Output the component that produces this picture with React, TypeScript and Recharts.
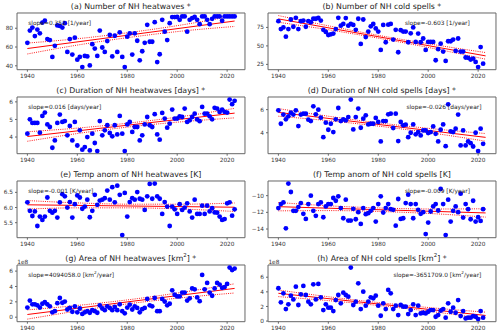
import React from "react";
import { ComposedChart, Scatter, Line, XAxis, YAxis, ReferenceLine } from "recharts";

const FIRST_YEAR = 1940;
const X_TICKS = [1940, 1960, 1980, 2000, 2020];
const X_DOMAIN: [number, number] = [1935.85, 2027.15];
const TREND_YEARS = [1940, 2023];
const BAND_YEARS = [1940, 1961, 1981, 2002, 2023];

// (a) number of heatwaves, 1940-2023
const heatCount = [
  64.5, 77.5, 80.7, 71.7, 78.6, 74.6, 86, 88, 68.5, 67.4,
  49.4, 61.3, 83, 82.5, 80.7, 85.4, 54.8, 68.5, 52, 70,
  46.5, 49.4, 38.6, 50.5, 50, 40.4, 63, 58.4, 50.5, 77.5,
  59.5, 54.8, 66.3, 72.8, 50, 72, 54.8, 75.7, 49.4, 38.6,
  71, 74.6, 52, 74.6, 66.7, 45.8, 55.5, 64.5, 83.6, 65.6,
  65.6, 86.5, 44, 52.3, 89, 76.4, 67.4, 85.4, 91.9, 91.9,
  92, 89, 92.6, 92.6, 76.4, 89, 90.8, 92, 89, 84.3,
  92.6, 92.6, 89, 84.3, 90, 92.6, 92.6, 92.6, 88, 92.6,
  92.6, 92.6, 92.6, 92.6,
];
const heatCountTrend = [58.4, 87.7];
const heatCountUpper = [64.2, 69.1, 75.5, 83.6, 93.5];
const heatCountLower = [52.6, 62.5, 70.3, 77.0, 81.9];

// (b) number of cold spells, 1940-2022
const coldCount = [
  83.4, 72.7, 75, 62.4, 72.7, 85.7, 75.9, 88, 72.7, 83.4,
  84.3, 75.9, 83.4, 82, 86.7, 86.7, 88, 84.3, 71.7, 68.9,
  64.7, 65.7, 66.6, 72.7, 88, 77.3, 79.7, 87.6, 77.3, 79.7,
  78.3, 71.7, 86.7, 52.6, 85.7, 61.9, 69.4, 76.4, 79.7, 73.6,
  69.4, 44.6, 78.3, 54.9, 78.7, 79.7, 58.6, 71.7, 41.4, 71.3,
  69.4, 69.4, 54.9, 67, 75, 55.4, 66.6, 54.9, 60, 44.6,
  55.4, 55.4, 55.4, 30.6, 45.6, 53, 42.3, 29.7, 56.3, 56.3,
  58.6, 43.2, 60, 42.3, 42.3, 34.3, 33.9, 31.5, 32.9, 28.3,
  21.3, 48.4, 25.9,
];
const coldCountTrend = [86.5, 36.5];
const coldCountUpper = [91, 76.5, 63.7, 51.8, 41];
const coldCountLower = [82, 71.3, 59.9, 46.6, 32];

// (c) duration of heatwaves [days]
const heatDur = [
  4.19, 5.01, 4.8, 4.8, 4.8, 4.25, 5.2, 5.39, 4.72, 4.57,
  3.39, 3.81, 4.8, 5.28, 4.86, 4.91, 4.1, 4.63, 3.81, 4.86,
  3.52, 4.38, 3.28, 3.43, 4.0, 3.24, 4.19, 3.66, 3.2, 4.91,
  4.1, 4.38, 4.67, 4.23, 4.04, 4.67, 4.15, 5.2, 4.19, 3.2,
  4.72, 4.86, 4.29, 4.57, 4.57, 3.81, 4.1, 4.72, 5.14, 4.67,
  4.57, 5.3, 4.15, 3.85, 5.37, 5.05, 4.53, 4.76, 5.56, 5.05,
  5.05, 5.18, 5.14, 5.62, 4.86, 4.95, 5.14, 5.33, 5.0, 4.9,
  5.71, 5.33, 5.33, 5.18, 5.01, 5.66, 5.62, 5.43, 5.56, 5.43,
  5.39, 6.13, 5.87, 6.06,
];
const heatDurTrend = [4.03, 5.36];
const heatDurUpper = [4.3, 4.52, 4.8, 5.17, 5.63];
const heatDurLower = [3.76, 4.22, 4.58, 4.87, 5.09];

// (d) duration of cold spells [days]
const coldDur = [
  5.94, 4.78, 5.57, 5.16, 5.42, 5.74, 5.57, 5.94, 4.58, 5.57,
  5.65, 5.65, 5.13, 5.01, 6.29, 5.59, 6.0, 5.3, 3.62, 4.87,
  4.26, 4.78, 4.06, 5.16, 6.14, 5.01, 5.16, 5.07, 5.36, 6.87,
  4.29, 5.36, 6.09, 4.43, 5.22, 5.51, 4.72, 4.78, 4.78, 5.28,
  4.93, 3.25, 5.01, 5.01, 5.59, 5.65, 4.41, 5.65, 3.28, 4.93,
  4.64, 4.7, 3.62, 4.0, 4.72, 3.86, 4.06, 3.77, 4.2, 4.2,
  3.97, 4.06, 4.55, 3.91, 3.25, 4.26, 4.72, 2.84, 6.46, 4.12,
  4.06, 4.35, 5.57, 2.9, 4.2, 2.9, 3.25, 3.1, 2.81, 4.0,
  2.41, 4.35, 3.04,
];
const coldDurTrend = [5.76, 3.6];
const coldDurUpper = [6.09, 5.4, 4.83, 4.34, 3.93];
const coldDurLower = [5.43, 5.02, 4.55, 3.96, 3.27];

// (e) temperature anomaly of heatwaves [K]
const heatTemp = [
  6.17, 5.89, 5.72, 5.87, 5.39, 5.7, 5.59, 5.7, 6.33, 5.89,
  5.83, 5.89, 5.67, 6.17, 6.44, 6.37, 6.0, 6.18, 5.67, 6.11,
  6.4, 6.33, 5.96, 6.03, 6.26, 5.68, 5.89, 6.42, 6.09, 6.23,
  6.26, 6.31, 6.56, 6.26, 6.67, 6.17, 6.72, 6.42, 5.09, 6.48,
  5.7, 6.18, 6.31, 6.26, 6.51, 6.29, 6.26, 5.92, 6.37, 6.78,
  6.29, 6.79, 6.37, 6.29, 5.79, 6.18, 6.03, 5.39, 6.03, 5.94,
  5.79, 6.11, 5.92, 6.0, 6.14, 5.87, 5.67, 6.26, 5.79, 5.79,
  6.06, 5.79, 6.06, 5.87, 5.98, 5.84, 5.83, 5.7, 5.59, 5.62,
  6.14, 6.17, 5.73, 5.94,
];
const heatTempTrend = [6.09, 6.01];
const heatTempUpper = [6.23, 6.15, 6.11, 6.11, 6.15];
const heatTempLower = [5.95, 5.99, 5.99, 5.95, 5.87];

// (f) temperature anomaly of cold spells [K]
const coldTemp = [
  -11.49, -11.01, -10.81, -13.92, -8.55, -9.56, -11.82, -11.82, -11.37, -10.89,
  -12.18, -12.79, -11.01, -10.0, -11.82, -12.42, -11.01, -10.81, -12.59, -11.29,
  -11.01, -11.01, -10.28, -10.61, -10.08, -11.49, -12.71, -10.48, -12.99, -12.99,
  -11.58, -12.83, -11.98, -13.39, -11.49, -12.22, -12.1, -11.82, -11.49, -13.11,
  -11.01, -10.08, -12.02, -11.49, -11.01, -11.62, -11.7, -13.6, -10.4, -12.79,
  -12.71, -10.89, -9.88, -11.01, -12.71, -11.01, -11.7, -12.18, -11.98, -14.61,
  -13.23, -11.9, -11.29, -11.01, -11.78, -9.19, -11.01, -14.73, -10.48, -13.11,
  -11.82, -11.29, -11.98, -9.76, -12.63, -11.01, -11.62, -12.83, -10.61, -13.11,
  -12.59, -13.03, -11.62,
];
const coldTempTrend = [-11.32, -12.07];
const coldTempUpper = [-10.82, -11.23, -11.48, -11.6, -11.57];
const coldTempLower = [-11.82, -11.79, -11.9, -12.16, -12.57];

// (g) area of heatwaves [1e8 km2]
const heatArea = [
  1.25, 2.17, 1.67, 1.67, 1.54, 1.25, 1.75, 1.96, 1.67, 1.42,
  0.63, 0.79, 1.83, 2.5, 1.88, 2.04, 1.0, 1.21, 0.71, 1.42,
  0.63, 1.13, 0.42, 0.63, 0.79, 0.58, 0.92, 0.79, 0.58, 1.54,
  1.13, 0.92, 1.42, 1.21, 0.92, 1.33, 0.92, 1.67, 0.79, 0.5,
  1.25, 1.63, 1.0, 1.42, 1.21, 0.63, 1.04, 1.21, 2.38, 1.54,
  1.42, 2.5, 0.79, 0.79, 2.38, 2.04, 1.54, 1.75, 3.5, 2.92,
  2.71, 2.71, 3.21, 3.21, 2.17, 2.46, 3.75, 3.63, 2.58, 2.08,
  5.5, 3.63, 4.46, 3.21, 2.79, 3.75, 4.46, 4.25, 3.83, 3.92,
  4.33, 6.46, 6.13, 6.33,
];
const heatAreaTrend = [0.35, 3.75];
const heatAreaUpper = [0.95, 1.56, 2.29, 3.24, 4.35];
const heatAreaLower = [-0.25, 0.86, 1.77, 2.54, 3.15];

// (h) area of cold spells [1e8 km2]
const coldArea = [
  4.49, 2.56, 3.8, 1.65, 2.29, 3.48, 2.97, 4.71, 2.2, 3.66,
  4.81, 3.57, 2.65, 2.29, 5.03, 2.97, 5.08, 3.25, 1.51, 2.29,
  1.83, 1.83, 1.37, 2.88, 3.57, 2.43, 3.89, 3.57, 3.34, 7.32,
  2.2, 2.65, 5.17, 1.65, 4.03, 2.11, 2.65, 3.25, 3.11, 3.48,
  2.11, 0.73, 2.43, 1.65, 4.26, 3.8, 1.65, 2.11, 0.82, 2.2,
  1.97, 1.97, 0.96, 1.51, 2.29, 0.82, 2.11, 1.05, 1.14, 1.05,
  1.28, 1.51, 1.51, 0.59, 0.82, 1.42, 1.65, 0.46, 2.43, 1.28,
  1.83, 1.14, 2.88, 0.69, 1.37, 0.37, 0.46, 0.46, 0.69, 0.59,
  0.27, 1.37, 0.46,
];
const coldAreaTrend = [3.8, 0.77];
const coldAreaUpper = [4.25, 3.29, 2.5, 1.8, 1.22];
const coldAreaLower = [3.35, 2.77, 2.1, 1.28, 0.32];

type Panel = {
  title: React.ReactNode;
  slope: React.ReactNode;
  values: number[];
  trend: number[];
  upper: number[];
  lower: number[];
  yTicks: number[];
  col: number;
  row: number;
  slopeX: number;
  decimals?: number;
  offset?: boolean;
};

const km2 = (
  <>
    km<sup style={{ fontSize: "70%", lineHeight: 0 }}>2</sup>
  </>
);

const PANELS: Panel[] = [
  { title: "(a) Number of NH heatwaves *", slope: "slope=0.352 [1/year]", values: heatCount, trend: heatCountTrend, upper: heatCountUpper, lower: heatCountLower, yTicks: [40, 60, 80], col: 0, row: 0, slopeX: 11.5 },
  { title: "(b) Number of NH cold spells *", slope: "slope=-0.603 [1/year]", values: coldCount, trend: coldCountTrend, upper: coldCountUpper, lower: coldCountLower, yTicks: [25, 50, 75], col: 1, row: 0, slopeX: 137 },
  { title: "(c) Duration of NH heatwaves [days] *", slope: "slope=0.016 [days/year]", values: heatDur, trend: heatDurTrend, upper: heatDurUpper, lower: heatDurLower, yTicks: [4, 5, 6], col: 0, row: 1, slopeX: 11.5 },
  { title: "(d) Duration of NH cold spells [days] *", slope: "slope=-0.026 [days/year]", values: coldDur, trend: coldDurTrend, upper: coldDurUpper, lower: coldDurLower, yTicks: [4, 6], col: 1, row: 1, slopeX: 138.5 },
  { title: "(e) Temp anom of NH heatwaves [K]", slope: "slope=-0.001 [K/year]", values: heatTemp, trend: heatTempTrend, upper: heatTempUpper, lower: heatTempLower, yTicks: [5.5, 6.0, 6.5], col: 0, row: 2, slopeX: 11.5, decimals: 1 },
  { title: "(f) Temp anom of NH cold spells [K]", slope: "slope=-0.009 [K/year]", values: coldTemp, trend: coldTempTrend, upper: coldTempUpper, lower: coldTempLower, yTicks: [-14, -12, -10], col: 1, row: 2, slopeX: 137 },
  { title: <>(g) Area of NH heatwaves [{km2}] *</>, slope: <>slope=4094058.0 [{km2}/year]</>, values: heatArea, trend: heatAreaTrend, upper: heatAreaUpper, lower: heatAreaLower, yTicks: [0, 2, 4, 6], col: 0, row: 3, slopeX: 11.5, offset: true },
  { title: <>(h) Area of NH cold spells [{km2}] *</>, slope: <>slope=-3651709.0 [{km2}/year]</>, values: coldArea, trend: coldAreaTrend, upper: coldAreaUpper, lower: coldAreaLower, yTicks: [0, 2, 4, 6], col: 1, row: 3, slopeX: 125.5, offset: true },
];

const SPINE = "#666";
const TEXT = "#222";
const W = 228;
const H = 56.7;
const YW = 24;
const XH = 16;
const MT = 2;
const MR = 4;

function buildLineRows(p: Panel) {
  const rows = new Map<number, any>();
  const get = (yr: number) => {
    if (!rows.has(yr)) rows.set(yr, { year: yr });
    return rows.get(yr);
  };
  TREND_YEARS.forEach((yr, i) => (get(yr).trend = p.trend[i]));
  BAND_YEARS.forEach((yr, i) => {
    get(yr).upper = p.upper[i];
    get(yr).lower = p.lower[i];
  });
  return [...rows.values()].sort((a, b) => a.year - b.year);
}

function yDomainOf(p: Panel): [number, number] {
  const all = [...p.values, ...p.upper, ...p.lower];
  const lo = Math.min(...all);
  const hi = Math.max(...all);
  const pad = (hi - lo) * 0.05;
  return [lo - pad, hi + pad];
}

const dot = (props: any) => (
  <circle cx={props.cx} cy={props.cy} r={2.4} fill="#0000ff" />
);

function PanelChart({ p }: { p: Panel }) {
  const L = p.col === 0 ? 16.8 : 267.9;
  const T = 12.9 + p.row * 84.05;
  const rows = buildLineRows(p);
  const points = p.values.map((v, i) => ({ year: FIRST_YEAR + i, v }));
  const yDomain = yDomainOf(p);
  const fmt = (v: number) =>
    (p.decimals ? v.toFixed(p.decimals) : String(v)).replace("-", "\u2212");
  const tick = { fontSize: 5.8, fill: "#333" };

  return (
    <>
      <div
        style={{
          position: "absolute",
          left: L,
          top: T - 12,
          width: W,
          lineHeight: "11px",
          textAlign: "center",
          fontSize: 7.8,
          color: TEXT,
          whiteSpace: "nowrap",
        }}
      >
        {p.title}
      </div>
      <div style={{ position: "absolute", left: L - YW, top: T - MT }}>
        <ComposedChart
          width={YW + W + MR}
          height={MT + H + XH}
          data={rows}
          margin={{ top: MT, right: MR, left: 0, bottom: 0 }}
        >
          <XAxis
            dataKey="year"
            type="number"
            domain={X_DOMAIN}
            ticks={X_TICKS}
            allowDataOverflow
            height={XH}
            tickSize={2}
            tick={tick}
            stroke={SPINE}
          />
          <YAxis
            type="number"
            domain={yDomain}
            ticks={p.yTicks}
            allowDataOverflow
            width={YW}
            tickSize={2}
            tick={tick}
            tickFormatter={fmt}
            stroke={SPINE}
          />
          <ReferenceLine x={X_DOMAIN[1]} stroke={SPINE} />
          <ReferenceLine y={yDomain[1]} stroke={SPINE} />
          <Scatter data={points} dataKey="v" shape={dot} isAnimationActive={false} />
          <Line
            dataKey="upper"
            type="monotone"
            stroke="#ff0000"
            strokeWidth={0.9}
            strokeDasharray="1 1.2"
            dot={false}
            connectNulls
            isAnimationActive={false}
          />
          <Line
            dataKey="lower"
            type="monotone"
            stroke="#ff0000"
            strokeWidth={0.9}
            strokeDasharray="1 1.2"
            dot={false}
            connectNulls
            isAnimationActive={false}
          />
          <Line
            dataKey="trend"
            type="linear"
            stroke="#ff0000"
            strokeWidth={1}
            dot={false}
            connectNulls
            isAnimationActive={false}
          />
        </ComposedChart>
      </div>
      <div
        style={{
          position: "absolute",
          left: L + p.slopeX,
          top: T + 9.6 - 5,
          lineHeight: "10px",
          fontSize: 5.9,
          color: TEXT,
          whiteSpace: "nowrap",
        }}
      >
        {p.slope}
      </div>
      {p.offset && (
        <div
          style={{
            position: "absolute",
            left: L + 0.5,
            top: T - 3.3 - 5,
            lineHeight: "10px",
            fontSize: 5.8,
            color: "#333",
          }}
        >
          1e8
        </div>
      )}
    </>
  );
}

export default function App() {
  return (
    <div
      style={{
        position: "absolute",
        left: 0,
        top: 0,
        width: 500,
        height: 335,
        background: "#fff",
        fontFamily: "DejaVu Sans",
        overflow: "hidden",
      }}
    >
      {PANELS.map((p, i) => (
        <PanelChart key={i} p={p} />
      ))}
    </div>
  );
}
